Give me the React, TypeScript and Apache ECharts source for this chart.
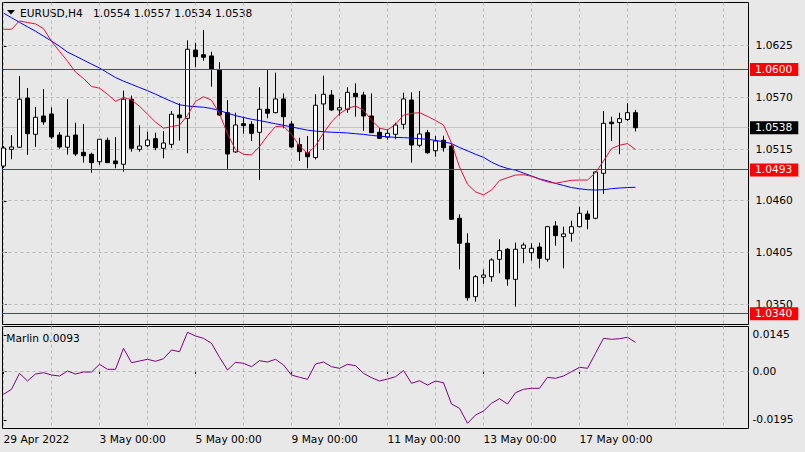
import React, { useEffect, useRef } from "react";
import * as echarts from "echarts";

// ---- data ----
const OPEN = [1.04972,1.0515,1.05172,1.05696,1.0531,1.05505,1.05526,1.05302,1.05172,1.05302,1.05118,1.05097,1.05018,1.05246,1.05026,1.04991,1.05683,1.0515,1.05189,1.05263,1.05161,1.05203,1.05515,1.0548,1.06207,1.06157,1.06144,1.05994,1.0554,1.05122,1.05423,1.05416,1.05331,1.05576,1.0554,1.05686,1.0542,1.05201,1.05116,1.05063,1.05633,1.05728,1.05569,1.05576,1.05746,1.05728,1.05505,1.05331,1.0528,1.0531,1.05416,1.05675,1.05193,1.05327,1.05135,1.05246,1.05185,1.04416,1.0415,1.03581,1.03788,1.03794,1.03979,1.04086,1.03766,1.04096,1.0405,1.0411,1.03979,1.04334,1.0422,1.04256,1.04326,1.04461,1.04416,1.04895,1.05439,1.05436,1.05468,1.0554];
const CLOSE = [1.05164,1.05175,1.05683,1.05316,1.05491,1.05442,1.05281,1.05175,1.05289,1.051,1.05082,1.05008,1.05257,1.05008,1.04997,1.05683,1.05161,1.05185,1.05249,1.05167,1.05217,1.05523,1.05486,1.06215,1.06136,1.0613,1.06005,1.05515,1.051,1.05409,1.05402,1.0532,1.05576,1.05534,1.05686,1.05497,1.05175,1.05125,1.05071,1.05619,1.05736,1.05569,1.05593,1.05757,1.0571,1.05505,1.05327,1.05267,1.0532,1.05409,1.05686,1.05196,1.05313,1.05114,1.05239,1.05167,1.04405,1.0415,1.0357,1.03794,1.03812,1.03972,1.04071,1.0377,1.04086,1.04131,1.04096,1.0399,1.04326,1.04231,1.04249,1.04326,1.04469,1.04405,1.04909,1.05427,1.05423,1.05476,1.0554,1.0538];
const LOW = [1.04951,1.05044,1.05169,1.0509,1.05175,1.05412,1.0526,1.05157,1.05093,1.05079,1.05008,1.04901,1.04983,1.05004,1.04948,1.04912,1.05125,1.05125,1.05175,1.0514,1.05054,1.05164,1.05242,1.05108,1.06023,1.06093,1.05817,1.05505,1.0493,1.05111,1.05316,1.05239,1.04823,1.0548,1.05534,1.05374,1.05164,1.05026,1.04948,1.05042,1.05143,1.05558,1.05508,1.0554,1.05497,1.05345,1.05324,1.0526,1.05254,1.05257,1.05363,1.05008,1.05172,1.051,1.05071,1.05125,1.04398,1.03873,1.03539,1.03528,1.03716,1.03741,1.0383,1.03698,1.03475,1.03937,1.03964,1.03883,1.03954,1.04124,1.03883,1.04167,1.0432,1.04299,1.04405,1.04674,1.05239,1.05097,1.0545,1.0534];
const HIGH = [1.05185,1.05302,1.05931,1.05803,1.05601,1.05792,1.05597,1.05334,1.05686,1.05433,1.0542,1.05114,1.0526,1.05274,1.05281,1.05774,1.05721,1.05406,1.05338,1.05327,1.05345,1.05558,1.0564,1.0631,1.06285,1.0642,1.06189,1.0608,1.05675,1.0554,1.05497,1.0545,1.0581,1.05994,1.05966,1.05746,1.05453,1.05274,1.05292,1.05736,1.05934,1.05782,1.05686,1.0581,1.05853,1.05763,1.05746,1.05377,1.05363,1.05433,1.05753,1.05757,1.05771,1.05356,1.05292,1.05295,1.05214,1.04458,1.04256,1.03812,1.03873,1.0399,1.04192,1.04099,1.04156,1.04156,1.0415,1.04156,1.04334,1.04387,1.04326,1.0439,1.04539,1.04497,1.04916,1.05558,1.05497,1.0554,1.0564,1.0557];
const MA_FAST = [1.06428,1.06428,1.06517,1.065,1.06485,1.06435,1.06299,1.06193,1.06088,1.05972,1.05904,1.05819,1.05801,1.05736,1.0566,1.05703,1.05676,1.05608,1.05524,1.0544,1.05375,1.05391,1.05408,1.05512,1.0566,1.0571,1.05673,1.05529,1.05315,1.05147,1.05097,1.0509,1.05179,1.05295,1.05392,1.05397,1.05309,1.05185,1.05105,1.05187,1.05324,1.05441,1.05528,1.05584,1.05611,1.05567,1.0546,1.05376,1.05356,1.05416,1.05515,1.05532,1.0554,1.05501,1.05457,1.05409,1.05217,1.04962,1.04778,1.04697,1.04665,1.04716,1.04817,1.04848,1.04876,1.0488,1.04863,1.04832,1.04803,1.04789,1.04805,1.0482,1.04823,1.04823,1.04901,1.05026,1.05158,1.05194,1.05211,1.05148];
const MA_SLOW = [1.066,1.06551,1.06502,1.06454,1.06407,1.06355,1.06303,1.06247,1.06185,1.06143,1.061,1.06057,1.06016,1.05965,1.05914,1.05876,1.05842,1.05808,1.05774,1.05737,1.05698,1.0566,1.05624,1.05611,1.05604,1.05598,1.05585,1.05562,1.05535,1.05509,1.05489,1.0547,1.05456,1.05439,1.05422,1.05406,1.05388,1.05371,1.05354,1.05344,1.05337,1.05332,1.05329,1.05324,1.05316,1.05309,1.05298,1.0529,1.05283,1.05277,1.05274,1.0527,1.05263,1.05257,1.05245,1.0523,1.05211,1.05169,1.05134,1.05097,1.05065,1.05013,1.04974,1.04946,1.04928,1.04897,1.04866,1.04835,1.04814,1.04787,1.04765,1.04743,1.0473,1.0472,1.04717,1.0472,1.04731,1.04738,1.04743,1.04746];
const MARLIN = [-0.00932,-0.00732,-0.00092,-0.004,-0.0012,-0.00068,-0.0016,-0.002,0,-0.0012,-0.0004,-0.0004,0.00268,0.00068,0.00068,0.00908,0.00332,0.004,0.00468,0.00388,0.00492,0.0084,0.00772,0.01548,0.014,0.01308,0.01108,0.00548,0.0004,0.00348,0.00308,0.00172,0.00412,0.0036,0.00468,0.0024,-0.0016,-0.00252,-0.00332,0.0028,0.0036,0.00172,0.00108,0.00268,0.00212,-0.00092,-0.00268,-0.004,-0.0032,-0.00228,0.0002,-0.00492,-0.00388,-0.0056,-0.004,-0.00468,-0.0132,-0.01492,-0.02092,-0.0176,-0.016,-0.01292,-0.01108,-0.0132,-0.00868,-0.00732,-0.00692,-0.00692,-0.00252,-0.00292,-0.002,-0.00028,0.00148,0.00108,0.00708,0.01308,0.01268,0.01292,0.01348,0.01148];

const LABEL_BARS = [0, 12, 24, 36, 48, 60, 72];
const LABEL_TEXT = ["29 Apr 2022", "3 May 00:00", "5 May 00:00", "9 May 00:00", "11 May 00:00", "13 May 00:00", "17 May 00:00"];
const GRID_BARS = [0, 6, 12, 18, 24, 30, 36, 42, 48, 54, 60, 66, 72, 78, 84, 90];
const PRICE_TICKS = [1.0625, 1.057, 1.0515, 1.046, 1.0405, 1.035];
const LEVELS = [1.06, 1.0493, 1.034];
const BID = 1.0538;
const MARLIN_TICKS = [0.0145, 0, -0.0195];
const MARLIN_GRID = [0];
const TITLE_SYMBOL = "EURUSD,H4";
const TITLE_PRICES = "1.0554 1.0557 1.0534 1.0538";
const MARLIN_LABEL = "Marlin 0.0093";

// axis ranges
const X_MIN = -0.125;
const X_MAX = 93.125;
const Y_MIN = 1.03285;
const Y_MAX = 1.06713;
const S_MIN = -0.023;
const S_MAX = 0.0178;

const FONT = '"DejaVu Sans", Verdana, sans-serif';
const FS = 10.67;
const BG = "#e8e8e8";

function hLines(xi: number, yi: number, values: number[], color: string, dashed: boolean, z: number) {
  return {
    type: "custom",
    xAxisIndex: xi,
    yAxisIndex: yi,
    z,
    silent: true,
    itemStyle: { color },
    data: values.map((v) => [0, v]),
    renderItem: (params: any, api: any) => {
      const cs = params.coordSys;
      const p = api.coord([api.value(0), api.value(1)]);
      const y = Math.round(p[1] - 0.5) + 0.5;
      const style: any = { stroke: color, fill: null, lineWidth: 1 };
      if (dashed) style.lineDash = [3, 3];
      return {
        type: "line",
        shape: { x1: cs.x, y1: y, x2: cs.x + cs.width, y2: y },
        style,
      };
    },
  };
}

function vLines(xi: number, yi: number, bars: number[], yRef: number, color: string, z: number) {
  return {
    type: "custom",
    xAxisIndex: xi,
    yAxisIndex: yi,
    z,
    silent: true,
    itemStyle: { color },
    data: bars.map((b) => [b, yRef]),
    renderItem: (params: any, api: any) => {
      const cs = params.coordSys;
      const p = api.coord([api.value(0), api.value(1)]);
      const x = Math.round(p[0] - 0.5) + 0.5;
      return {
        type: "line",
        shape: { x1: x, y1: cs.y, x2: x, y2: cs.y + cs.height },
        style: { stroke: color, fill: null, lineWidth: 1, lineDash: [3, 3] },
      };
    },
  };
}

export default function App() {
  const ref = useRef<HTMLDivElement>(null);
  useEffect(() => {
    if (!ref.current) return;
    const chart = echarts.init(ref.current, null, { renderer: "svg" });
    const candles = OPEN.map((o, i) => [i, o, CLOSE[i], LOW[i], HIGH[i]]);
    const textStyle = { fontFamily: FONT, fontSize: FS, color: "#000" };
    const option: any = {
      animation: false,
      backgroundColor: BG,
      grid: [
        { left: 2.5, top: 2.5, width: 746, height: 322, show: true, borderColor: "#000", borderWidth: 1, backgroundColor: "transparent" },
        { left: 2.5, top: 326.5, width: 746, height: 102, show: true, borderColor: "#000", borderWidth: 1, backgroundColor: "transparent" },
      ],
      xAxis: [
        { type: "value", gridIndex: 0, min: X_MIN, max: X_MAX, show: false, splitLine: { show: false } },
        {
          type: "value",
          gridIndex: 1,
          min: X_MIN,
          max: X_MAX,
          axisLine: { show: false },
          splitLine: { show: false },
          axisTick: { show: true, customValues: LABEL_BARS, length: 3, lineStyle: { color: "#000" } },
          axisLabel: {
            customValues: LABEL_BARS,
            formatter: (v: number) => LABEL_TEXT[LABEL_BARS.indexOf(Math.round(v))] ?? "",
            align: "left",
            margin: 5,
            ...textStyle,
          },
        },
      ],
      yAxis: [
        {
          type: "value",
          gridIndex: 0,
          position: "right",
          min: Y_MIN,
          max: Y_MAX,
          axisLine: { show: false },
          splitLine: { show: false },
          axisTick: { show: true, customValues: PRICE_TICKS, length: 3, lineStyle: { color: "#000" } },
          axisLabel: { customValues: PRICE_TICKS, formatter: (v: number) => v.toFixed(4), margin: 7, ...textStyle },
        },
        {
          type: "value",
          gridIndex: 0,
          position: "right",
          min: Y_MIN,
          max: Y_MAX,
          axisLine: { show: false },
          splitLine: { show: false },
          axisTick: { show: false },
          axisLabel: {
            customValues: [...LEVELS, BID],
            margin: 1.5,
            formatter: (v: number) => (Math.abs(v - BID) < 1e-7 ? `{b|${v.toFixed(4)}}` : `{r|${v.toFixed(4)}}`),
            rich: {
              r: { backgroundColor: "#ff0000", color: "#fff", padding: [1, 6, 1, 5], fontFamily: FONT, fontSize: FS, lineHeight: 11.4 },
              b: { backgroundColor: "#000000", color: "#fff", padding: [1, 6, 1, 5], fontFamily: FONT, fontSize: FS, lineHeight: 11.4 },
            },
          },
        },
        {
          type: "value",
          gridIndex: 1,
          position: "right",
          min: S_MIN,
          max: S_MAX,
          axisLine: { show: false },
          splitLine: { show: false },
          axisTick: { show: true, customValues: MARLIN_TICKS, length: 3, lineStyle: { color: "#000" } },
          axisLabel: {
            customValues: MARLIN_TICKS,
            formatter: (v: number) => (Math.abs(v) < 1e-9 ? "0.00" : v.toFixed(4)),
            margin: 4,
            ...textStyle,
          },
        },
      ],
      series: [
        vLines(0, 0, GRID_BARS, Y_MIN, "#bababa", 1),
        hLines(0, 0, PRICE_TICKS, "#bababa", true, 1),
        hLines(0, 0, [BID], "#c4c4c4", false, 2),
        {
          type: "candlestick",
          xAxisIndex: 0,
          yAxisIndex: 0,
          z: 3,
          barWidth: 4,
          data: candles,
          itemStyle: { color: "#ffffff", color0: "#000000", borderColor: "#000000", borderColor0: "#000000", borderWidth: 1 },
          silent: true,
        },
        {
          type: "line",
          xAxisIndex: 0,
          yAxisIndex: 0,
          z: 4,
          showSymbol: false,
          data: MA_SLOW.map((v, i) => [i, v]),
          lineStyle: { color: "#0000ff", width: 1 },
          silent: true,
        },
        {
          type: "line",
          xAxisIndex: 0,
          yAxisIndex: 0,
          z: 4,
          showSymbol: false,
          data: MA_FAST.map((v, i) => [i, v]),
          lineStyle: { color: "#e0143c", width: 1 },
          silent: true,
        },
        hLines(0, 0, LEVELS, "#ff0000", false, 5),
        vLines(1, 2, GRID_BARS, S_MIN, "#bababa", 1),
        hLines(1, 2, MARLIN_GRID, "#bababa", true, 1),
        {
          type: "line",
          xAxisIndex: 1,
          yAxisIndex: 2,
          z: 4,
          showSymbol: false,
          data: MARLIN.map((v, i) => [i, v]),
          lineStyle: { color: "#800080", width: 1 },
          silent: true,
        },
      ],
      graphic: [
        { type: "polygon", shape: { points: [[7, 10], [15, 10], [11, 14.5]] }, style: { fill: "#000" }, silent: true },
        { type: "text", x: 20, y: 13.5, style: { text: TITLE_SYMBOL, fill: "#000", fontFamily: FONT, fontSize: FS, verticalAlign: "middle" }, silent: true },
        { type: "text", x: 93, y: 13.5, style: { text: TITLE_PRICES, fill: "#000", fontFamily: FONT, fontSize: FS, verticalAlign: "middle" }, silent: true },
        { type: "text", x: 6.3, y: 338.3, style: { text: MARLIN_LABEL, fill: "#000", fontFamily: FONT, fontSize: FS, verticalAlign: "middle" }, silent: true },
      ],
    };
    chart.setOption(option);
    return () => chart.dispose();
  }, []);
  return <div ref={ref} style={{ position: "absolute", left: 0, top: 0, width: 805, height: 452 }} />;
}
